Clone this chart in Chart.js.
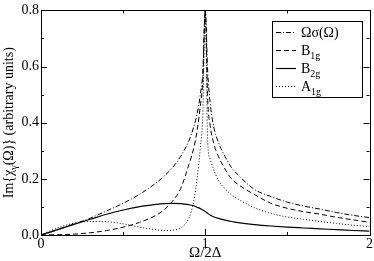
<!DOCTYPE html>
<html>
<head>
<meta charset="utf-8">
<script src="https://cdn.jsdelivr.net/npm/chart.js@4"></script>
<style>
  html, body { margin: 0; padding: 0; background: #fff; }
  #wrap { width: 374px; height: 261px; }
</style>
</head>
<body>
<div id="wrap"><canvas id="chart" width="374" height="261"></canvas></div>
<script>
// x grid (Ω/2Δ)
const omega = [0, 0.1, 0.2, 0.3, 0.4, 0.5, 0.6, 0.7, 0.75, 0.8, 0.85, 0.9, 0.93, 0.95, 0.97, 0.985,
  1.0, 1.015, 1.03, 1.05, 1.08, 1.12, 1.16, 1.2, 1.3, 1.4, 1.5, 1.6, 1.7, 1.8, 1.9, 2.0];

// Ωσ(Ω)
const sigmaVals = [0, 0.018, 0.039, 0.06, 0.086, 0.113, 0.145, 0.185, 0.21, 0.24, 0.28, 0.335, 0.385, 0.43, 0.5, 0.58,
  0.8, 0.58, 0.47, 0.39, 0.33, 0.28, 0.24, 0.214, 0.162, 0.137, 0.117, 0.103, 0.092, 0.08, 0.07, 0.062];
// B1g
const b1gVals = [0, 0.001, 0.003, 0.008, 0.016, 0.028, 0.045, 0.07, 0.09, 0.12, 0.165, 0.25, 0.31, 0.37, 0.46, 0.55,
  0.8, 0.48, 0.39, 0.33, 0.28, 0.235, 0.2, 0.18, 0.144, 0.113, 0.095, 0.083, 0.074, 0.063, 0.054, 0.045];
// B2g
const b2gVals = [0, 0.019, 0.038, 0.056, 0.074, 0.089, 0.101, 0.109, 0.112, 0.113, 0.112, 0.108, 0.104, 0.099, 0.094, 0.089,
  0.084, 0.077, 0.071, 0.065, 0.059, 0.053, 0.048, 0.044, 0.037, 0.032, 0.028, 0.025, 0.022, 0.019, 0.016, 0.014];
// A1g
const a1gVals = [0, 0.025, 0.042, 0.048, 0.047, 0.04, 0.028, 0.019, 0.016, 0.017, 0.025, 0.06, 0.12, 0.2, 0.31, 0.43,
  0.8, 0.33, 0.27, 0.235, 0.195, 0.165, 0.143, 0.128, 0.097, 0.077, 0.064, 0.056, 0.048, 0.041, 0.035, 0.03];

const xTicks = [0, 1, 2];
const yTicks = [0.0, 0.2, 0.4, 0.6, 0.8];

// legend: [main text, subscript, dash pattern, line width]
const legendItems = [
  ['Ωσ(Ω)', '', [5, 2, 1, 2], 1],
  ['B', '1g', [5, 3], 1],
  ['B', '2g', [], 1.2],
  ['A', '1g', [1, 2], 1]
];

const serif = '"Liberation Serif", "Times New Roman", serif';

function pts(vals) {
  return omega.map((x, i) => ({ x: x, y: vals[i] }));
}

function series(label, vals, dash, width) {
  return {
    label: label,
    data: pts(vals),
    borderColor: '#000',
    borderWidth: width,
    borderDash: dash,
    pointRadius: 0,
    fill: false,
    cubicInterpolationMode: 'monotone'
  };
}

// draws text with an optional subscript
function subText(ctx, x, y, main, sub, size) {
  ctx.font = size + 'px ' + serif;
  ctx.fillText(main, x, y);
  let w = ctx.measureText(main).width;
  if (sub) {
    ctx.font = Math.round(size * 0.7) + 'px ' + serif;
    ctx.fillText(sub, x + w, y + size * 0.3);
    w += ctx.measureText(sub).width;
  }
  return w;
}

const frame = {
  id: 'frame',
  afterDraw(chart) {
    const ctx = chart.ctx;
    const a = chart.chartArea;
    const xs = chart.scales.x, ys = chart.scales.y;
    ctx.save();
    ctx.strokeStyle = '#000';
    ctx.lineWidth = 1;
    ctx.setLineDash([]);
    ctx.strokeRect(Math.round(a.left) + 0.5, Math.round(a.top) + 0.5,
      Math.round(a.right - a.left), Math.round(a.bottom - a.top));

    // inward ticks on all four sides
    ctx.beginPath();
    for (let v = 0; v <= 2.001; v += 0.5) {
      const px = Math.round(xs.getPixelForValue(v)) + 0.5;
      const len = (Math.abs(v - Math.round(v)) < 0.01) ? 6 : 3;
      ctx.moveTo(px, a.bottom); ctx.lineTo(px, a.bottom - len);
      ctx.moveTo(px, a.top); ctx.lineTo(px, a.top + len);
    }
    for (let i = 0; i <= 8; i++) {
      const py = Math.round(ys.getPixelForValue(i / 10)) + 0.5;
      const len = (i % 2 === 0) ? 6 : 3;
      ctx.moveTo(a.left, py); ctx.lineTo(a.left + len, py);
      ctx.moveTo(a.right, py); ctx.lineTo(a.right - len, py);
    }
    ctx.stroke();

    // axis titles
    ctx.fillStyle = '#000';
    ctx.textBaseline = 'alphabetic';
    ctx.font = '15px ' + serif;
    ctx.textAlign = 'center';
    ctx.fillText('Ω/2Δ', (a.left + a.right) / 2, 257);

    ctx.save();
    ctx.translate(13, (a.top + a.bottom) / 2);
    ctx.rotate(-Math.PI / 2);
    ctx.textAlign = 'left';
    ctx.font = '14px ' + serif;
    const t1 = 'Im{χ', t3 = '(Ω)} (arbitrary units)';
    const w1 = ctx.measureText(t1).width;
    const w3 = ctx.measureText(t3).width;
    ctx.font = '10px ' + serif;
    const w2 = ctx.measureText('γ').width;
    let x = -(w1 + w2 + w3) / 2;
    ctx.font = '14px ' + serif;
    ctx.fillText(t1, x, 0); x += w1;
    ctx.font = '10px ' + serif;
    ctx.fillText('γ', x, 4); x += w2;
    ctx.font = '14px ' + serif;
    ctx.fillText(t3, x, 0);
    ctx.restore();

    // legend box
    const bx = 272, by = 21, bw = 90, bh = 76;
    ctx.strokeRect(bx + 0.5, by + 0.5, bw, bh);
    legendItems.forEach((it, i) => {
      const cy = by + 11 + i * 18;
      ctx.beginPath();
      ctx.setLineDash(it[2]);
      ctx.lineWidth = it[3];
      ctx.moveTo(bx + 4, cy + 0.5);
      ctx.lineTo(bx + 24, cy + 0.5);
      ctx.stroke();
      ctx.setLineDash([]);
      ctx.lineWidth = 1;
      ctx.textAlign = 'left';
      subText(ctx, bx + 29, cy + 4.5, it[0], it[1], 14);
    });
    ctx.restore();
  }
};

new Chart(document.getElementById('chart'), {
  type: 'line',
  data: {
    datasets: [
      series('Ωσ(Ω)', sigmaVals, [5, 2, 1, 2], 1),
      series('B1g', b1gVals, [5, 3], 1),
      series('B2g', b2gVals, [], 1.2),
      series('A1g', a1gVals, [1, 2], 1)
    ]
  },
  options: {
    responsive: false,
    animation: false,
    devicePixelRatio: 1,
    layout: { padding: { left: 0, right: 4, top: 5, bottom: 0 } },
    plugins: { legend: { display: false }, tooltip: { enabled: false } },
    scales: {
      x: {
        type: 'linear',
        min: 0, max: 2,
        afterBuildTicks: s => { s.ticks = xTicks.map(v => ({ value: v })); },
        afterFit: s => { s.height = 26; },
        grid: { display: false, drawTicks: false },
        border: { display: false },
        ticks: {
          color: '#000', padding: 1, maxRotation: 0,
          font: { family: serif, size: 14 },
          callback: v => String(v)
        }
      },
      y: {
        min: 0, max: 0.8,
        afterBuildTicks: s => { s.ticks = yTicks.map(v => ({ value: v })); },
        afterFit: s => { s.width = 41; },
        grid: { display: false, drawTicks: false },
        border: { display: false },
        ticks: {
          color: '#000', padding: 2,
          font: { family: serif, size: 14 },
          callback: v => v.toFixed(1)
        }
      }
    }
  },
  plugins: [frame]
});
</script>
</body>
</html>
